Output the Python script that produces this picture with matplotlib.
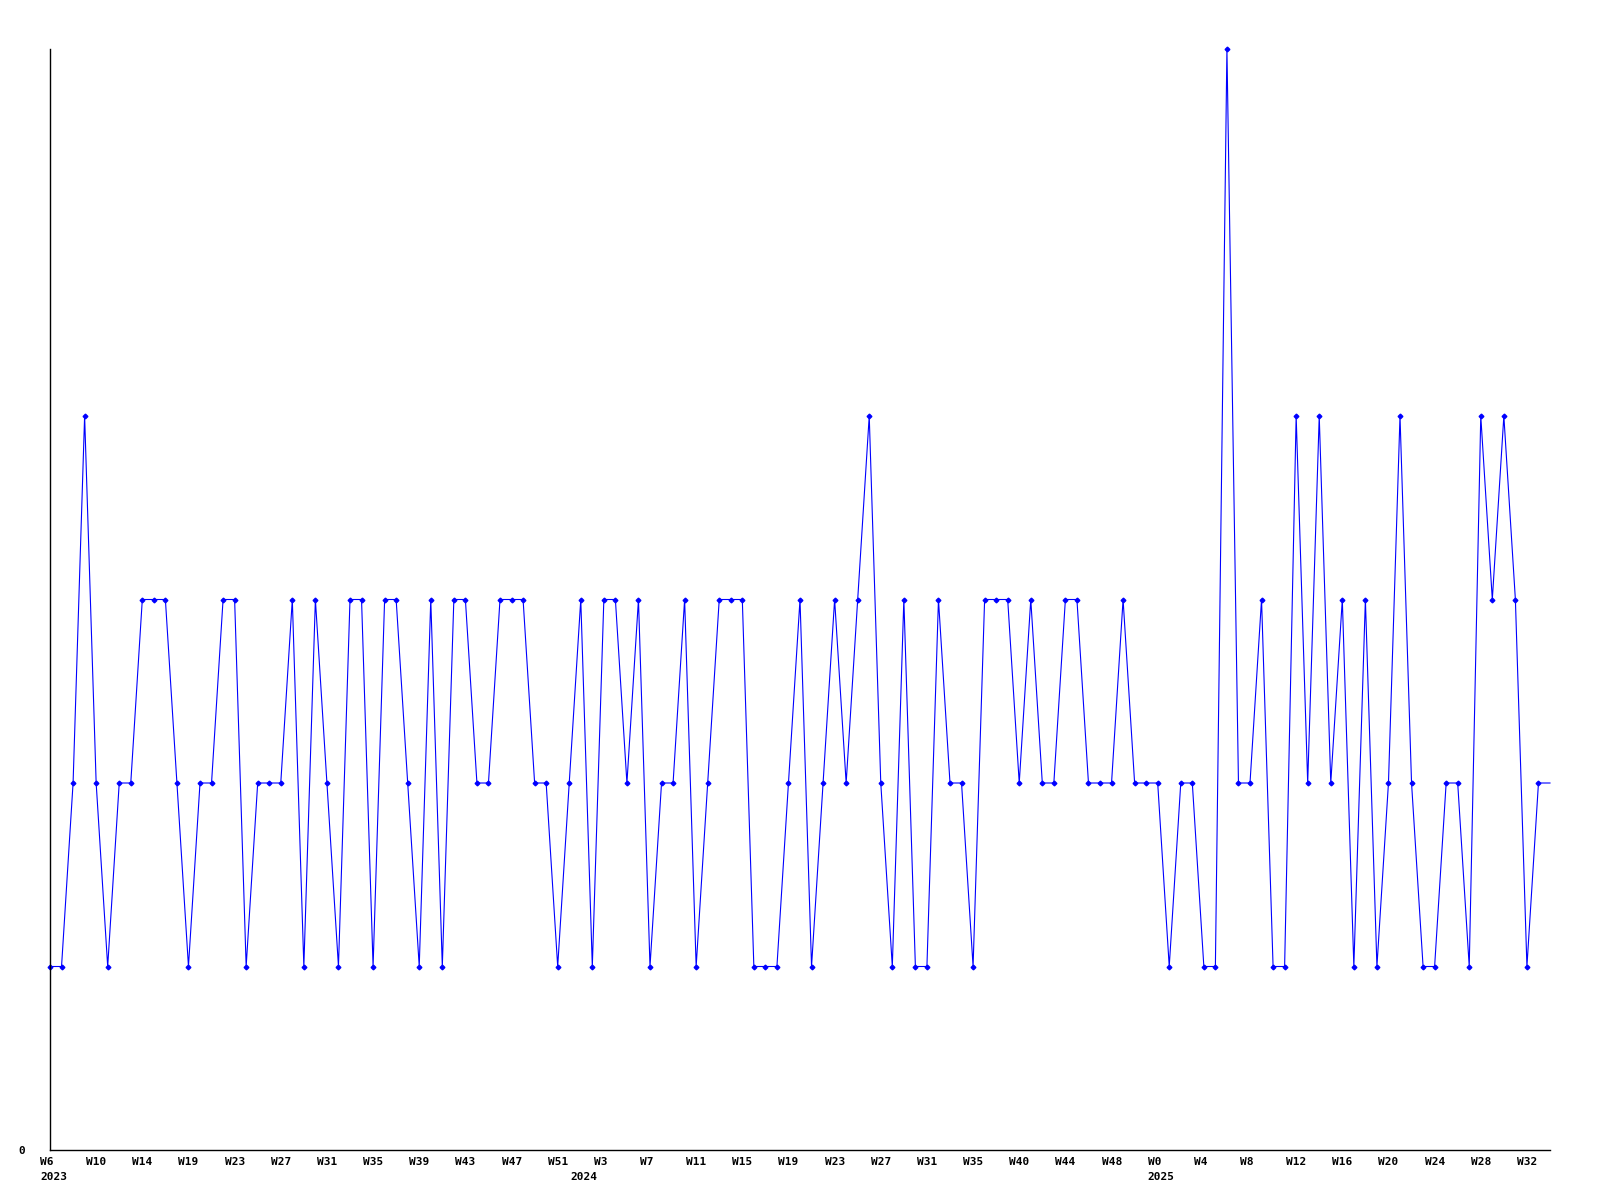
import numpy as np
import matplotlib
matplotlib.use('Agg')
import matplotlib.pyplot as plt

# weekly values (last one is the running, unmarked value)
values = [1, 1, 2, 4, 2, 1, 2, 2, 3, 3, 3, 2, 1, 2, 2, 3, 3, 1, 2, 2,
          2, 3, 1, 3, 2, 1, 3, 3, 1, 3, 3, 2, 1, 3, 1, 3, 3, 2, 2, 3,
          3, 3, 2, 2, 1, 2, 3, 1, 3, 3, 2, 3, 1, 2, 2, 3, 1, 2, 3, 3,
          3, 1, 1, 1, 2, 3, 1, 2, 3, 2, 3, 4, 2, 1, 3, 1, 1, 3, 2, 2,
          1, 3, 3, 3, 2, 3, 2, 2, 3, 3, 2, 2, 2, 3, 2, 2, 2, 1, 2, 2,
          1, 1, 6, 2, 2, 3, 1, 1, 4, 2, 4, 2, 3, 1, 3, 1, 2, 4, 2, 1,
          1, 2, 2, 1, 4, 3, 4, 3, 1, 2, 2]

# x labels, one every 4 weeks
week_labels = ["W6", "W10", "W14", "W19", "W23", "W27", "W31", "W35", "W39",
               "W43", "W47", "W51", "W3", "W7", "W11", "W15", "W19", "W23",
               "W27", "W31", "W35", "W40", "W44", "W48", "W0", "W4", "W8",
               "W12", "W16", "W20", "W24", "W28", "W32"]
year_pos = [0, 46, 96]
year_labels = ["2023", "2024", "2025"]

font = dict(family='DejaVu Sans Mono', weight='bold', size=8)

fig = plt.figure(figsize=(16, 12), dpi=100)
ax = fig.add_axes([50/1600., 50/1200., 1500/1600., 1101/1200.])

x = np.arange(len(values))
n = len(values) - 1
ax.plot(x, values, color='#0000ff', lw=0.8, marker='D', ms=2.4,
        markevery=list(range(n)), clip_on=False)

ax.set_xlim(0, n)
ax.set_ylim(0, 6)

for s in ['top', 'right']:
    ax.spines[s].set_visible(False)
for s in ['left', 'bottom']:
    ax.spines[s].set_linewidth(1.0)

ax.set_yticks([0])
ax.set_yticklabels(["0"], fontdict=font)
ax.tick_params(axis='y', length=0, pad=18)
ax.set_xticks([])

# week and year labels, left aligned a little before the point
for i, lab in enumerate(week_labels):
    ax.annotate(lab, xy=(i*4, 0), xycoords=('data', 'axes fraction'),
                xytext=(-10, -12), textcoords='offset pixels',
                ha='left', va='center', annotation_clip=False, **font)
for p, lab in zip(year_pos, year_labels):
    ax.annotate(lab, xy=(p, 0), xycoords=('data', 'axes fraction'),
                xytext=(-10, -27), textcoords='offset pixels',
                ha='left', va='center', annotation_clip=False, **font)

fig.savefig('out.png', dpi=100, facecolor='white')
